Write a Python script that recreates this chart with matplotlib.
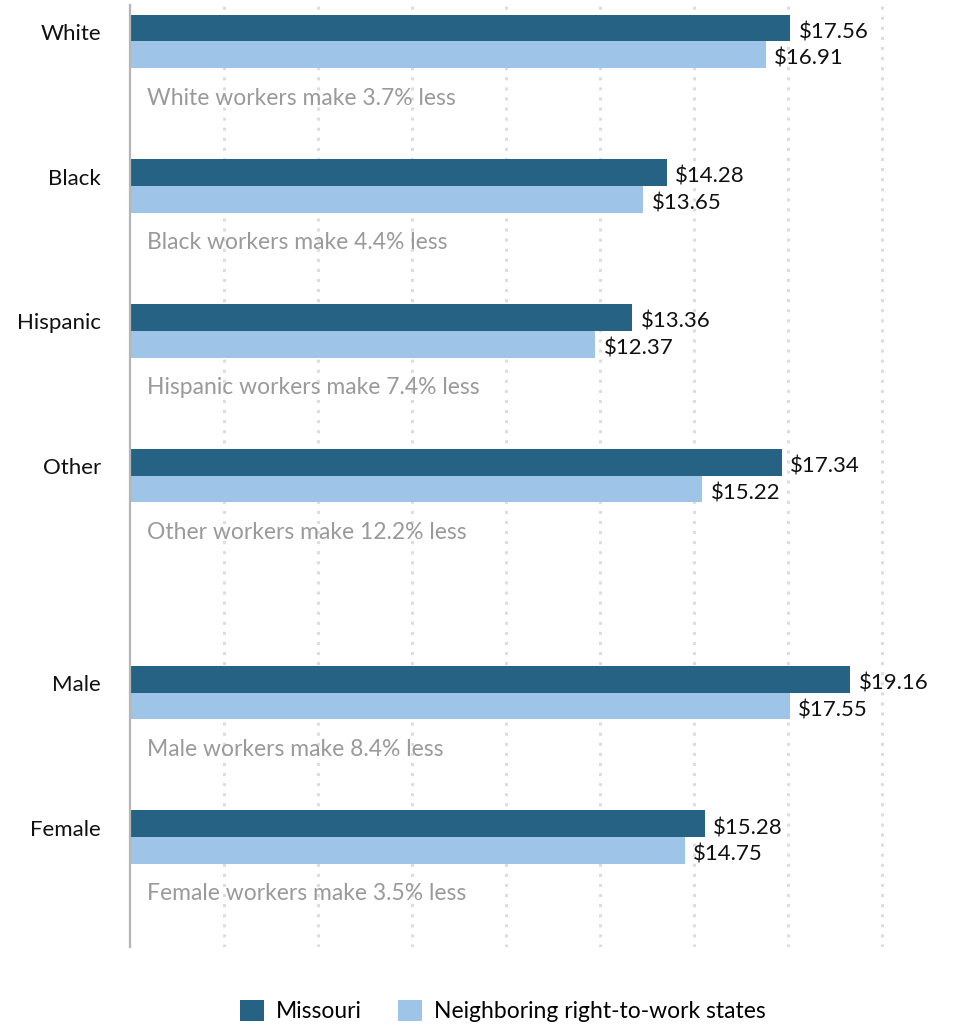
import matplotlib.pyplot as plt
import matplotlib.transforms as mtransforms
import numpy as np

plt.rcParams.update({
    "font.family": ["Lato", "DejaVu Sans"],
    "font.size": 16,
})

categories = ["White", "Black", "Hispanic", "Other", "Male", "Female"]
missouri = [17.56, 14.28, 13.36, 17.34, 19.16, 15.28]
neighbors = [16.91, 13.65, 12.37, 15.22, 17.55, 14.75]
notes = [
    "White workers make 3.7% less",
    "Black workers make 4.4% less",
    "Hispanic workers make 7.4% less",
    "Other workers make 12.2% less",
    "Male workers make 8.4% less",
    "Female workers make 3.5% less",
]
# extra gap between the race and gender groups
group_pos = np.array([0, 1, 2, 3, 4.5, 5.5])

dark = "#256283"
light = "#9ec5e8"
bar_h = 0.185

fig = plt.figure(figsize=(9.76, 10.27), dpi=100)
ax = fig.add_axes([0.1332, 0.0779, 0.7725, 0.9172])

b1 = ax.barh(group_pos, missouri, height=bar_h, color=dark, label="Missouri")
b2 = ax.barh(group_pos + bar_h, neighbors, height=bar_h, color=light,
             label="Neighboring right-to-work states")

for bars, vals in [(b1, missouri), (b2, neighbors)]:
    for bar, v in zip(bars, vals):
        ax.annotate(f"${v:.2f}", (bar.get_width(), bar.get_y() + bar.get_height() / 2),
                    xytext=(6, -3), textcoords="offset points",
                    va="center", ha="left", fontsize=16, color="#111111")

for y, note in zip(group_pos, notes):
    ax.text(0.45, y + 0.484, note, va="center", ha="left",
            fontsize=16.5, color="#9a9a9a")

ax.set_xlim(0, 20.05)
ax.set_ylim(group_pos[-1] + 0.851, -0.159)
ax.set_xticks(np.arange(2.5, 20.01, 2.5))
ax.tick_params(axis="x", bottom=False, labelbottom=False)
ax.grid(axis="x", color="#dddddd", linewidth=2.2, linestyle=(0, (1, 2.3)),
        dash_capstyle="butt")
ax.set_axisbelow(True)

ax.set_yticks(group_pos)
ax.set_yticklabels(categories, fontsize=16, color="#111111")
ax.tick_params(axis="y", left=False, pad=17.5)
shift = mtransforms.ScaledTranslation(0, -4 / 100, fig.dpi_scale_trans)
for lab in ax.get_yticklabels():
    lab.set_transform(lab.get_transform() + shift)

for s in ["top", "right", "bottom"]:
    ax.spines[s].set_visible(False)
ax.spines["left"].set_color("#b5b5b5")
ax.spines["left"].set_linewidth(1.6)

fig.legend(handles=[b1, b2], loc="center", bbox_to_anchor=(0.515, 0.0155),
           ncol=2, frameon=False, fontsize=16.5, handlelength=1.05,
           handleheight=1.05, handletextpad=0.5, columnspacing=1.6)

plt.savefig("out.png", dpi=100)
plt.close()
